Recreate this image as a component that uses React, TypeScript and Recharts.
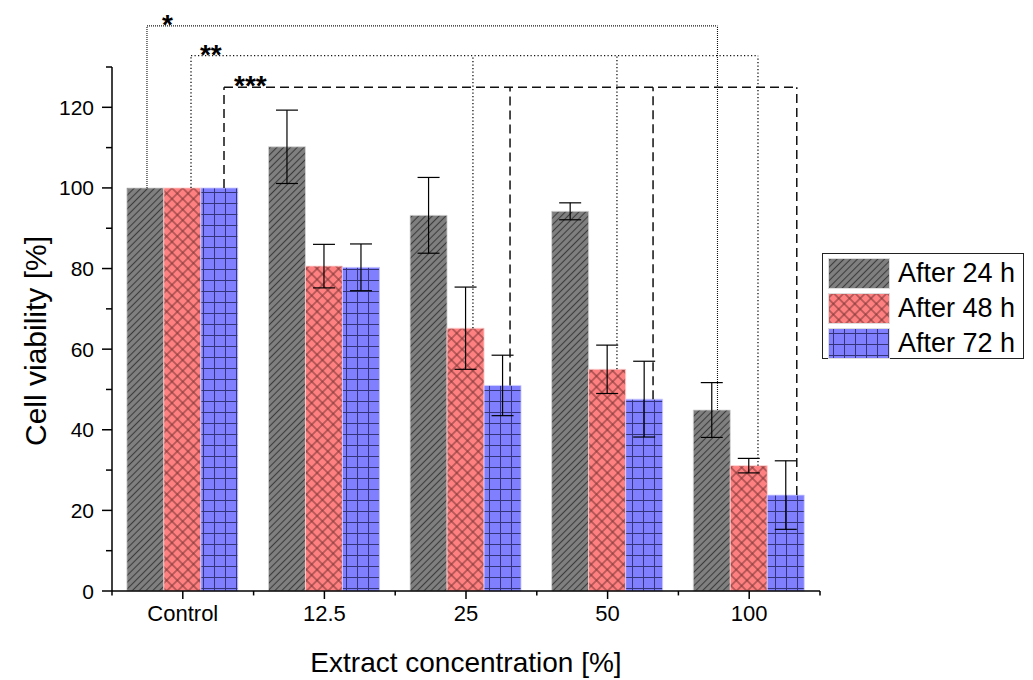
import React from "react";
import { BarChart, Bar, XAxis, YAxis, ErrorBar, ReferenceLine, ReferenceDot } from "recharts";

const categories = ["Control", "12.5", "25", "50", "100"];
const after24 = [100, 110.2, 93.2, 94.2, 44.9];
const err24 = [null, 9.1, 9.4, 2.1, 6.8];
const after48 = [100, 80.6, 65.2, 55.0, 31.1];
const err48 = [null, 5.4, 10.2, 6.0, 1.8];
const after72 = [100, 80.3, 51.0, 47.6, 23.8];
const err72 = [null, 5.8, 7.5, 9.4, 8.5];
const yTicks = [0, 10, 20, 30, 40, 50, 60, 70, 80, 90, 100, 110, 120, 130];
const xBounds = [0, 1, 2, 3, 4, 5];
const seriesNames = ["After 24 h", "After 48 h", "After 72 h"];

// significance brackets, x in category units along the axis
const brackets = [
  { stars: "*", level: 140.2, starX: 0.353, dash: "1 1", width: 1.1, legs: [{ x: 0.247, from: after24[0] }, { x: 4.276, from: after24[4] }] },
  {
    stars: "**", level: 132.8, starX: 0.621, dash: "1.2 2.3", width: 1.3,
    legs: [{ x: 0.558, from: after48[0] }, { x: 2.549, from: after48[2] }, { x: 3.566, from: after48[3] }, { x: 4.562, from: after48[4] }],
  },
  {
    stars: "***", level: 125.0, starX: 0.862, dash: "9 5", width: 1.5,
    legs: [{ x: 0.791, from: after72[0] }, { x: 2.811, from: after72[2] }, { x: 3.821, from: after72[3] }, { x: 4.836, from: after72[4] }],
  },
];

const data = categories.map((name, i) => ({
  name,
  pos: i + 0.5,
  a24: after24[i],
  e24: err24[i] ?? undefined,
  a48: after48[i],
  e48: err48[i] ?? undefined,
  a72: after72[i],
  e72: err72[i] ?? undefined,
}));

const FONT = '"Liberation Sans", Arial, sans-serif';

function Patterns() {
  return (
    <defs>
      <pattern id="pat24" patternUnits="userSpaceOnUse" width="4.8" height="4.8" patternTransform="rotate(45)">
        <rect width="4.8" height="4.8" fill="#808080" />
        <line x1="2.4" y1="0" x2="2.4" y2="4.8" stroke="#3c3c3c" strokeWidth="1.1" />
      </pattern>
      <pattern id="pat48" patternUnits="userSpaceOnUse" width="7.6" height="7.6" patternTransform="rotate(45)">
        <rect width="7.6" height="7.6" fill="#ff8080" />
        <line x1="3.8" y1="0" x2="3.8" y2="7.6" stroke="#7a3434" strokeWidth="1" />
        <line x1="0" y1="3.8" x2="7.6" y2="3.8" stroke="#7a3434" strokeWidth="1" />
      </pattern>
      <pattern id="pat72" patternUnits="userSpaceOnUse" width="11" height="11">
        <rect width="11" height="11" fill="#8080ff" />
        <line x1="5.5" y1="0" x2="5.5" y2="11" stroke="#34347a" strokeWidth="1" />
        <line x1="0" y1="5.5" x2="11" y2="5.5" stroke="#34347a" strokeWidth="1" />
      </pattern>
    </defs>
  );
}

const YTick = (props: any) => {
  const { x, y, payload } = props;
  const v = payload.value;
  const major = v % 20 === 0;
  const ax = x + 12;
  return (
    <g>
      <line x1={ax - (major ? 10 : 6)} x2={ax} y1={y} y2={y} stroke="#000" strokeWidth={1.5} />
      {major && (
        <text x={ax - 18} y={y} textAnchor="end" dominantBaseline="central" fontSize={21} fill="#000" fontFamily={FONT}>
          {v}
        </text>
      )}
    </g>
  );
};

function LegendBox() {
  const ids = ["pat24", "pat48", "pat72"];
  return (
    <div
      style={{
        position: "absolute",
        left: 822,
        top: 253,
        width: 202,
        height: 106,
        border: "1.5px solid #222",
        background: "#fff",
        boxSizing: "border-box",
        padding: "2px 0 0 5px",
      }}
    >
      {seriesNames.map((n, i) => (
        <div key={n} style={{ display: "flex", alignItems: "center", height: 35 }}>
          <svg width={62} height={31} style={{ display: "block" }}>
            <rect x={0.5} y={0.5} width={61} height={30} fill={`url(#${ids[i]})`} stroke="#ddd" strokeWidth={1} />
          </svg>
          <span style={{ marginLeft: 8, fontSize: 27, color: "#000", lineHeight: "31px" }}>{n}</span>
        </div>
      ))}
    </div>
  );
}

export default function App() {
  return (
    <div style={{ position: "absolute", left: 0, top: 0, width: 1033, height: 680, background: "#fff", fontFamily: FONT }}>
      <BarChart
        width={1033}
        height={680}
        data={data}
        margin={{ top: 67, right: 213, bottom: 0, left: 0 }}
        barCategoryGap="10.5%"
        barGap={0}
      >
        <Patterns />
        <XAxis
          dataKey="name"
          height={89}
          tickSize={8}
          tickMargin={6}
          interval={0}
          axisLine={{ stroke: "#000", strokeWidth: 1.5 }}
          tickLine={{ stroke: "#000", strokeWidth: 1.5 }}
          tick={{ fontSize: 22, fill: "#000" }}
        />
        <XAxis xAxisId="n" dataKey="pos" type="number" domain={[0, 5]} allowDataOverflow hide />
        <YAxis
          width={112}
          domain={[0, 130]}
          ticks={yTicks}
          interval={0}
          tickSize={10}
          tickMargin={2}
          tickLine={false}
          axisLine={{ stroke: "#000", strokeWidth: 1.5 }}
          tick={<YTick />}
        />
        <Bar dataKey="a24" fill="url(#pat24)" stroke="#d8d8d8" strokeWidth={0.8} isAnimationActive={false}>
          <ErrorBar dataKey="e24" width={11} stroke="#000" strokeWidth={1.2} />
        </Bar>
        <Bar dataKey="a48" fill="url(#pat48)" stroke="#ffd0d0" strokeWidth={0.8} isAnimationActive={false}>
          <ErrorBar dataKey="e48" width={11} stroke="#000" strokeWidth={1.2} />
        </Bar>
        <Bar dataKey="a72" fill="url(#pat72)" stroke="#d0d0ff" strokeWidth={0.8} isAnimationActive={false}>
          <ErrorBar dataKey="e72" width={11} stroke="#000" strokeWidth={1.2} />
        </Bar>
        {xBounds.map((b) => (
          <ReferenceLine
            key={"mt" + b}
            xAxisId="n"
            ifOverflow="visible"
            segment={[{ x: b, y: 0 }, { x: b, y: -1.1 }]}
            stroke="#000"
            strokeWidth={1.5}
          />
        ))}
        {brackets.map((br, bi) => (
          <React.Fragment key={"br" + bi}>
            <ReferenceLine
              xAxisId="n"
              ifOverflow="visible"
              segment={[{ x: br.legs[0].x, y: br.level }, { x: br.legs[br.legs.length - 1].x, y: br.level }]}
              stroke="#111"
              strokeWidth={br.width}
              strokeDasharray={br.dash}
            />
            {br.legs.map((lg, li) => (
              <ReferenceLine
                key={li}
                xAxisId="n"
                ifOverflow="visible"
                segment={[{ x: lg.x, y: lg.from }, { x: lg.x, y: br.level }]}
                stroke="#111"
                strokeWidth={br.width}
                strokeDasharray={br.dash}
              />
            ))}
            <ReferenceDot
              xAxisId="n"
              x={br.starX}
              y={br.level}
              ifOverflow="visible"
              shape={(p: any) => (
                <text x={p.cx} y={p.cy + 8} fontSize={28} fontWeight="bold" fill="#000" fontFamily={FONT}>
                  {br.stars}
                </text>
              )}
            />
          </React.Fragment>
        ))}
        <text x={35} y={341} transform="rotate(-90 35 341)" textAnchor="middle" dominantBaseline="central" fontSize={30} fill="#000" fontFamily={FONT}>
          Cell viability [%]
        </text>
        <text x={466} y={662} textAnchor="middle" dominantBaseline="central" fontSize={28} fill="#000" fontFamily={FONT}>
          Extract concentration [%]
        </text>
      </BarChart>
      <LegendBox />
    </div>
  );
}
